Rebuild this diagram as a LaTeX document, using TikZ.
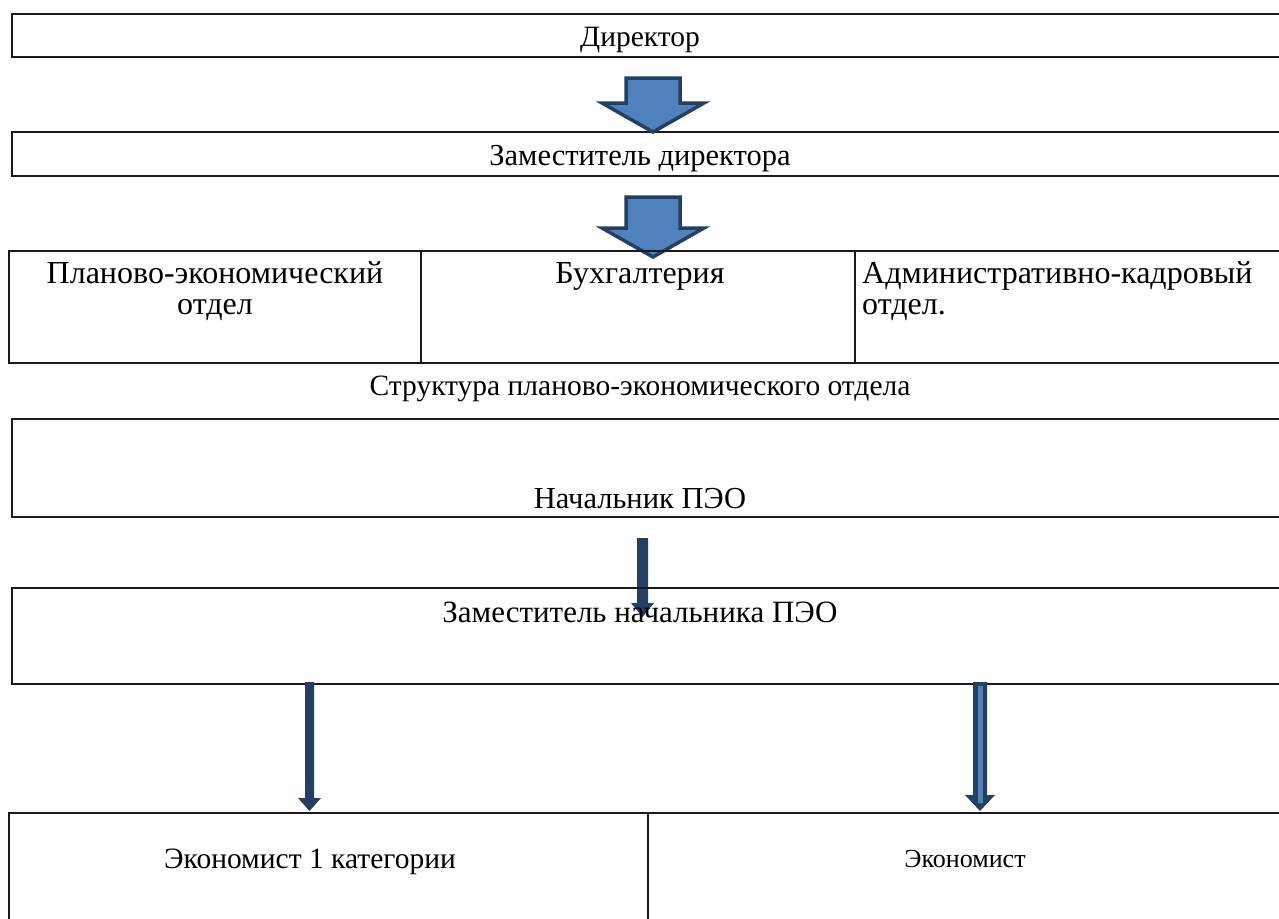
\documentclass[tikz,border=0pt]{standalone}
\usepackage{fontspec}
\setmainfont{Liberation Serif}
\definecolor{arrfill}{HTML}{4F81BD}
\definecolor{arrline}{HTML}{243F60}
\definecolor{boxline}{HTML}{1A1A1A}
\tikzset{
  px/.style={x=1pt,y=-1pt},
  boxln/.style={draw=boxline,line width=1.3pt},
  lbl/.style={font=\fontsize{29.5}{34}\selectfont,inner sep=0pt,text=black,anchor=base},
  tlbl/.style={lbl,font=\fontsize{32}{36}\selectfont},
  bigarrow/.style={fill=arrfill,draw=arrline,line width=3.5pt,line join=miter},
  thinarrow/.style={fill=arrline,draw=none},
}
\begin{document}
\begin{tikzpicture}[px]
\useasboundingbox (0,0) rectangle (1279,918);
% Box 1
\draw[boxln] (1290,14) -- (12,14) -- (12,57) -- (1290,57);
\node[lbl] (dir) at (640,46) {Директор};
% Box 2
\draw[boxln] (1290,132) -- (12,132) -- (12,176) -- (1290,176);
\node[lbl,font=\fontsize{30.5}{34}\selectfont] (zam) at (640,165) {Заместитель директора};
% arrow 1
\draw[bigarrow] (626,78) -- (680,78) -- (680,103) -- (704,103) -- (653,132) -- (602,103) -- (626,103) -- cycle;
% arrow 2
\draw[bigarrow] (626,197) -- (680,197) -- (680,228) -- (704,228) -- (653,257) -- (602,228) -- (626,228) -- cycle;
% Box 3 table
\draw[boxln] (1290,251) -- (9,251) -- (9,363) -- (1290,363);
\draw[boxln] (421,251) -- (421,363);
\draw[boxln] (855,251) -- (855,363);
\node[tlbl] (peo) at (215,283) {Планово-экономический};
\node[tlbl] (peo2) at (215,314) {отдел};
\node[tlbl] (buh) at (640,283) {Бухгалтерия};
\node[tlbl,anchor=base west] (ako) at (862,283) {Административно-кадровый};
\node[tlbl,anchor=base west] (ako2) at (862,314) {отдел.};
% caption
\node[lbl] (cap) at (640,395) {Структура планово-экономического отдела};
% Box 4
\draw[boxln] (1290,419) -- (12,419) -- (12,517) -- (1290,517);
\node[lbl,font=\fontsize{30.5}{34}\selectfont] (nach) at (640,508) {Начальник ПЭО};
% arrow 3
\fill[thinarrow] (637,538) -- (648,538) -- (648,603) -- (654,603) -- (642.5,617) -- (631,603) -- (637,603) -- cycle;
% Box 5
\draw[boxln] (1290,588) -- (12,588) -- (12,684) -- (1290,684);
\node[lbl,font=\fontsize{31}{34}\selectfont] (zn) at (640,622) {Заместитель начальника ПЭО};
% arrow 4
\fill[thinarrow] (305,682) -- (314,682) -- (314,798) -- (321,798) -- (309.5,811) -- (298,798) -- (305,798) -- cycle;
% arrow 5
\fill[thinarrow] (973,682) -- (987,682) -- (987,795) -- (995,795) -- (980,811) -- (965,795) -- (973,795) -- cycle;
\fill[arrfill] (977.5,686) rectangle (982.5,803);
% Box 6
\draw[boxln] (1290,813) -- (9,813) -- (9,930);
\draw[boxln] (648,813) -- (648,930);
\node[lbl] (e1) at (310,868) {Экономист 1 категории};
\node[lbl,font=\fontsize{26}{30}\selectfont] (e2) at (965,867) {Экономист};
\end{tikzpicture}
\end{document}
